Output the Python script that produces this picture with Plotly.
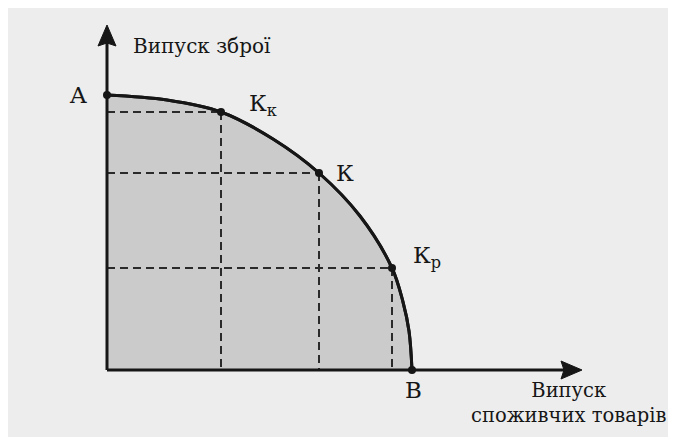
import plotly.graph_objects as go

# points on the production possibility frontier
curve_x = [0, 60, 114, 166, 212, 253, 285, 296, 302, 305]
curve_y = [275, 270, 258, 231, 197, 154, 102, 68, 39, 0]

# named points
pt_names = ["A", "К<sub>к</sub>", "К", "К<sub>р</sub>", "B"]
pt_x = [0, 114, 212, 285, 305]
pt_y = [275, 258, 197, 102, 0]

# points that get dashed projections to the axes
proj_x = [114, 212, 285]
proj_y = [258, 197, 102]

y_title = "Випуск зброї"
x_title = "Випуск<br>споживчих товарів"

# axis extents (tips of the arrows)
x_end = 475
y_end = 345

ink = "#161616"
font = "DejaVu Serif"

fig = go.Figure()

# shaded area under the frontier
fig.add_trace(go.Scatter(x=curve_x, y=curve_y, mode="lines", line=dict(color=ink, width=3, shape="spline"),
                         fill="tozeroy", fillcolor="#cbcbcb", hoverinfo="skip"))

# dashed projections
dx, dy = [], []
for x, y in zip(proj_x, proj_y):
    dx += [0, x, None, x, x, None]
    dy += [y, y, None, y, 0, None]
fig.add_trace(go.Scatter(x=dx, y=dy, mode="lines", line=dict(color="#2a2a2a", width=2, dash="8px,5px"),
                         hoverinfo="skip"))

# axes
fig.add_trace(go.Scatter(x=[0, 0, None, 0, x_end - 10], y=[y_end - 10, 0, None, 0, 0], mode="lines",
                         line=dict(color=ink, width=3), hoverinfo="skip"))
# arrow heads
head, half, notch = 21, 9, 3
fig.add_trace(go.Scatter(x=[0, -half, 0, half, 0], y=[y_end, y_end - head, y_end - head + notch, y_end - head, y_end],
                         mode="lines", fill="toself", fillcolor=ink, line=dict(color=ink, width=1), hoverinfo="skip"))
fig.add_trace(go.Scatter(x=[x_end, x_end - head, x_end - head + notch, x_end - head, x_end], y=[0, half, 0, -half, 0],
                         mode="lines", fill="toself", fillcolor=ink, line=dict(color=ink, width=1), hoverinfo="skip"))

# frontier again on top of dashes
fig.add_trace(go.Scatter(x=curve_x, y=curve_y, mode="lines", line=dict(color=ink, width=3, shape="spline"),
                         hoverinfo="skip"))

# dots
fig.add_trace(go.Scatter(x=pt_x, y=pt_y, mode="markers", marker=dict(color=ink, size=8), hoverinfo="skip"))

# point labels
lab_x = [-29, 156, 238, 320, 306]
lab_y = [275, 265, 197, 113, -20]
for name, x, y in zip(pt_names, lab_x, lab_y):
    fig.add_annotation(x=x, y=y, text=name, showarrow=False, font=dict(family=font, size=23, color=ink))

# axis titles
fig.add_annotation(x=24, y=324, text=y_title, showarrow=False, xanchor="left",
                   font=dict(family=font, size=20, color=ink))
fig.add_annotation(x=462, y=-33, text=x_title, showarrow=False, align="center",
                   font=dict(family=font, size=19.5, color=ink))

# page body keeps an 8px margin, so the figure is 8px smaller than the window
fig.update_layout(width=668, height=429, margin=dict(l=0, r=0, t=0, b=0),
                  paper_bgcolor="#ededed", plot_bgcolor="rgba(0,0,0,0)", showlegend=False)
fig.update_xaxes(range=[-99, 569], visible=False)
fig.update_yaxes(range=[-67, 362], visible=False)

fig.write_html("out.html")
